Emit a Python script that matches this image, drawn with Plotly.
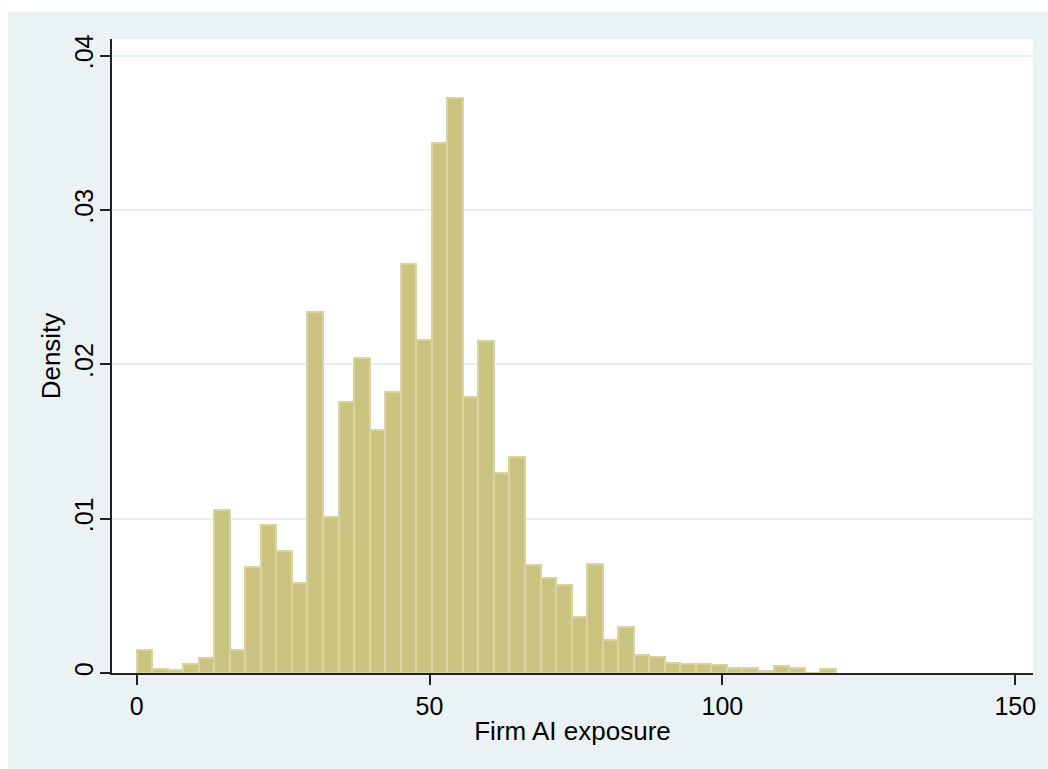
import plotly.graph_objects as go

# ---- data ----
bin_start = 0.0
bin_width = 2.652
density = [
    0.00146, 0.00024, 0.00018, 0.00058, 0.00095, 0.01054, 0.00147, 0.00684,
    0.00956, 0.00790, 0.00581, 0.02337, 0.01008, 0.01756, 0.02039, 0.01574,
    0.01818, 0.02648, 0.02156, 0.03432, 0.03724, 0.01786, 0.02148, 0.01299,
    0.01397, 0.00697, 0.00618, 0.00573, 0.00366, 0.00709, 0.00213, 0.00296,
    0.00115, 0.00102, 0.00062, 0.00057, 0.00057, 0.00050, 0.00031, 0.00031,
    0.00011, 0.00044, 0.00031, 0.0, 0.00024,
]
x_tickvals = [0, 50, 100, 150]
x_ticktext = ["0", "50", "100", "150"]
y_tickvals = [0, 0.01, 0.02, 0.03, 0.04]
y_ticktext = ["0", ".01", ".02", ".03", ".04"]
x_title = "Firm AI exposure"
y_title = "Density"

centers = [bin_start + (k + 0.5) * bin_width for k in range(len(density))]

# ---- styles ----
OUTER = "#EAF2F3"
GRID = "#E6EFF1"
AXIS = "#222222"
FILL = "rgb(203,196,128)"
EDGE = "rgb(216,211,160)"
FONT = "Liberation Sans, Arial, Helvetica, sans-serif"

W, H = 1048, 769
L, R, T, B = 112, 15, 39, 96
pw, ph = W - L - R, H - T - B

fig = go.Figure()
fig.add_trace(go.Bar(
    x=centers, y=density, width=bin_width,
    marker=dict(color=FILL, line=dict(color=EDGE, width=2)),
    hoverinfo="x+y", showlegend=False,
))

fig.update_layout(
    width=W, height=H,
    margin=dict(l=L, r=R, t=T, b=B, pad=0),
    paper_bgcolor=OUTER, plot_bgcolor="white",
    font=dict(family=FONT, color="black", size=25),
    bargap=0,
    xaxis=dict(
        range=[-4.2, 153.02], tickvals=x_tickvals, ticktext=x_ticktext,
        showgrid=False, zeroline=False, showline=True, linecolor=AXIS, linewidth=1.5,
        ticks="outside", ticklen=10, tickwidth=1.5, tickcolor=AXIS,
        tickfont=dict(size=25), fixedrange=True,
        title=dict(text=x_title, font=dict(size=26), standoff=3),
    ),
    yaxis=dict(
        range=[0, 0.04108], tickvals=y_tickvals, ticktext=y_ticktext,
        tickangle=-90, ticklabelstandoff=-3,
        showgrid=True, gridcolor=GRID, gridwidth=2, zeroline=False,
        showline=True, linecolor=AXIS, linewidth=1.5,
        ticks="outside", ticklen=10, tickwidth=1.5, tickcolor=AXIS,
        tickfont=dict(size=25), fixedrange=True,
        title=dict(text=y_title, font=dict(size=26), standoff=2),
    ),
    shapes=[
        # white strips at the top and the left edge of the picture
        dict(type="rect", xref="paper", yref="paper", layer="above",
             x0=-L / pw, x1=1 + R / pw, y0=1 + (T - 12) / ph, y1=1 + T / ph,
             fillcolor="white", line=dict(width=0)),
        dict(type="rect", xref="paper", yref="paper", layer="above",
             x0=-L / pw, x1=-(L - 8) / pw, y0=-B / ph, y1=1 + T / ph,
             fillcolor="white", line=dict(width=0)),
    ],
)

fig.write_html("out.html")
